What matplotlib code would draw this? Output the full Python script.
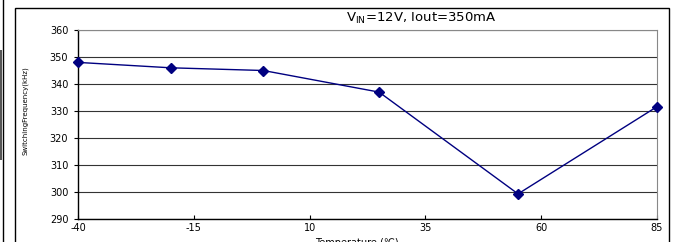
import matplotlib.pyplot as plt
from matplotlib.patches import Rectangle
from matplotlib.lines import Line2D

plt.rcParams['font.family'] = ['DejaVu Sans']
plt.rcParams['axes.unicode_minus'] = False

# Datos
temperatura = [-40, -20, 0, 25, 55, 85]
frecuencia = [348, 346, 345, 337, 299.3, 331.6]
x_ticks = [-40, -15, 10, 35, 60, 85]
y_ticks = [290, 300, 310, 320, 330, 340, 350, 360]

fig = plt.figure(figsize=(6.75, 2.42), dpi=100)
W, H = 675, 242

# Marco exterior del gráfico
fig.patches.append(Rectangle((15 / W, -0.05), 654 / W, 1.05 - 8 / H, transform=fig.transFigure,
                             fill=False, edgecolor='black', linewidth=1))
fig.lines.append(Line2D([3 / W, 3 / W], [0, 1], transform=fig.transFigure, color='black', linewidth=1))
fig.patches.append(Rectangle((0, 1 - 160 / H), 2 / W, 110 / H, transform=fig.transFigure,
                             facecolor='#555555', edgecolor='none'))

ax = fig.add_axes([78 / W, 23 / H, 579 / W, 189 / H])
ax.plot(temperatura, frecuencia, color='#000080', linewidth=1, marker='D', markersize=5,
        clip_on=False, zorder=3)

ax.set_xlim(-40, 85)
ax.set_ylim(290, 360)
ax.set_xticks(x_ticks)
ax.set_yticks(y_ticks)
ax.tick_params(axis='x', direction='in', length=3, labelsize=7, pad=3)
ax.tick_params(axis='y', direction='out', length=3, labelsize=7, pad=4)
ax.grid(axis='y', color='#333333', linewidth=0.8)
ax.set_axisbelow(True)

for s in ['top', 'right']:
    ax.spines[s].set_color('#888888')
    ax.spines[s].set_linewidth(0.8)
for s in ['left', 'bottom']:
    ax.spines[s].set_color('black')
    ax.spines[s].set_linewidth(1)

fig.text(421 / W, 1 - 18 / H, r'V$_{\mathregular{IN}}$=12V, Iout=350mA', ha='center', va='center', fontsize=9.5)
fig.text(25 / W, 1 - 111 / H, 'SwitchingFrequency(kHz)', rotation=90, ha='center', va='center',
         fontsize=5, family='Liberation Sans Narrow')
fig.text(357 / W, 1 - 243 / H, 'Temperature (℃)', ha='center', va='center', fontsize=7)

fig.savefig('out.png', dpi=100)
